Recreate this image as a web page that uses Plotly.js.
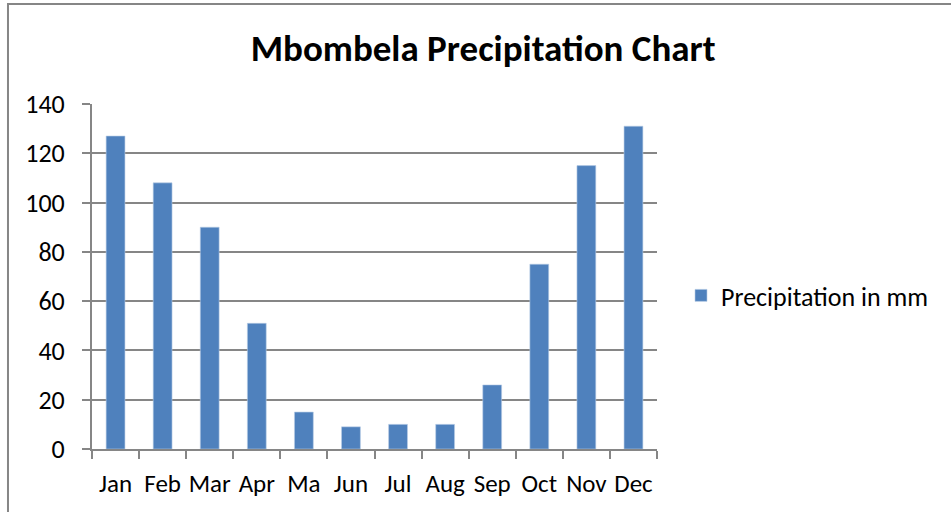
<!DOCTYPE html>
<html>
<head>
<meta charset="utf-8">
<script src="https://cdn.plot.ly/plotly-3.0.1.min.js"></script>
<style>html,body{margin:0;padding:0;background:#fff;}#chart{width:951px;height:512px;}</style>
</head>
<body>
<div id="chart"></div>
<script>
const months = ["Jan","Feb","Mar","Apr","Ma","Jun","Jul","Aug","Sep","Oct","Nov","Dec"];
const precipitation = [127,108,90,51,15,9,10,10,26,75,115,131];
const seriesName = "Precipitation in mm";
const yTicks = [0,20,40,60,80,100,120,140];

const font = "Carlito, Lato, 'Liberation Sans', sans-serif";
const trace = {
  type: "bar",
  x: months,
  y: precipitation,
  name: seriesName,
  marker: {color: "#4f81bd", line: {color: "#b9cde5", width: 0.6}},
  width: 0.4,
  showlegend: true
};
const layout = {
  width: 951, height: 512,
  margin: {l: 92, r: 294, t: 104, b: 63},
  paper_bgcolor: "#fff", plot_bgcolor: "#fff",
  font: {family: font, size: 26, color: "#000"},
  title: {text: "<b>Mbombela Precipitation Chart</b>", font: {family: font, size: 37, color: "#000"},
          x: 0.508, xanchor: "center", y: 0.906, yanchor: "middle", xref: "container", yref: "container"},
  xaxis: {type: "category", range: [-0.5, 11.5], tickson: "boundaries", ticks: "outside", ticklen: 8,
          tickcolor: "#868686", tickwidth: 2, showline: true, linecolor: "#868686", linewidth: 2, tickangle: 0,
          showgrid: false, tickfont: {size: 25}, fixedrange: true, automargin: false, ticklabelstandoff: 11},
  yaxis: {range: [0, 140], tickvals: yTicks, ticks: "outside", ticklen: 8, tickcolor: "#868686", tickwidth: 2,
          showline: true, linecolor: "#868686", linewidth: 2, showgrid: true, gridcolor: "#868686", gridwidth: 2,
          zeroline: false, tickfont: {size: 26}, automargin: false, ticklabelstandoff: 12},
  legend: {x: 1.0425, xanchor: "left", y: 0.445, yanchor: "middle", font: {size: 26},
           itemwidth: 30, bgcolor: "rgba(0,0,0,0)"},
  shapes: [{type: "rect", xref: "paper", yref: "paper", x0: -0.1487, x1: 1.6, y0: -0.3, y1: 1.2899,
            line: {color: "#868686", width: 2}, fillcolor: "rgba(0,0,0,0)", layer: "below"}]
};
Plotly.newPlot("chart", [trace], layout, {displayModeBar: false, staticPlot: true});
</script>
</body>
</html>
